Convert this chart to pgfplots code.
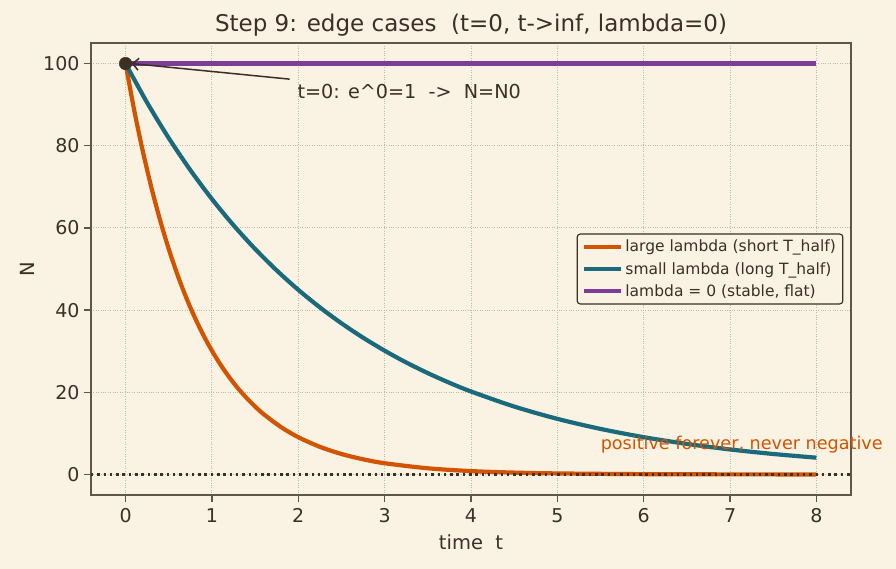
\documentclass[border=0pt]{standalone}
\usepackage{fontspec}
\setmainfont{DejaVu Sans}
\usepackage{pgfplots}
\pgfplotsset{compat=1.18}
\usetikzlibrary{backgrounds,arrows.meta}

\definecolor{paper}{HTML}{FAF2E3}
\definecolor{ink}{HTML}{3B2F27}
\definecolor{frame}{HTML}{5E554B}
\definecolor{gridc}{HTML}{C4B9A6}
\definecolor{fast}{HTML}{D35400}
\definecolor{slow}{HTML}{1B6A7B}
\definecolor{flat}{HTML}{7D3C98}

% N(t) = N0 e^{-lambda t}, N0 = 100
\pgfplotstableread{
t N
0 100
0.1 88.69
0.2 78.66
0.3 69.77
0.4 61.88
0.5 54.88
0.6 48.68
0.7 43.17
0.8 38.29
0.9 33.96
1.0 30.12
1.1 26.71
1.2 23.69
1.3 21.01
1.4 18.64
1.5 16.53
1.6 14.66
1.8 11.53
2.0 9.07
2.25 6.72
2.5 4.98
2.75 3.69
3.0 2.73
3.5 1.50
4.0 0.82
4.5 0.45
5.0 0.25
6.0 0.07
7.0 0.02
8.0 0.01
}\largelambda

\pgfplotstableread{
t N
0 100
0.25 90.48
0.5 81.87
0.75 74.08
1.0 67.03
1.25 60.65
1.5 54.88
1.75 49.66
2.0 44.93
2.25 40.66
2.5 36.79
2.75 33.29
3.0 30.12
3.25 27.25
3.5 24.66
3.75 22.31
4.0 20.19
4.5 16.53
5.0 13.53
5.5 11.08
6.0 9.07
6.5 7.43
7.0 6.08
7.5 4.98
8.0 4.08
}\smalllambda

\pgfplotstableread{
t N
0 100
8 100
}\zerolambda

\begin{document}
\begin{tikzpicture}
\begin{axis}[
  scale only axis,
  width=760pt, height=452pt,
  xmin=-0.4, xmax=8.4, ymin=-5, ymax=105,
  xtick={0,1,...,8}, ytick={0,20,...,100},
  tick pos=left,
  tick align=outside,
  major tick length=7pt,
  clip=false,
  grid=major,
  major grid style={gridc, dotted, line width=1pt},
  axis line style={frame, line width=1.5pt},
  tick style={frame, line width=1.3pt},
  /pgf/number format/assume math mode=true,
  ticklabel style={font=\fontsize{19}{19}\selectfont, text=ink},
  xticklabel style={yshift=-3pt},
  yticklabel style={xshift=-1pt},
  xlabel={time\ \ t}, ylabel={N},
  label style={font=\fontsize{19.5}{19.5}\selectfont, text=ink},
  xlabel style={yshift=-5pt},
  ylabel style={yshift=2pt},
  title={Step 9: edge cases\ \ (t=0, t->inf, lambda=0)},
  title style={font=\fontsize{23}{23}\selectfont, text=ink,
    at={(0.5,1)}, anchor=base, yshift=5pt},
  legend cell align=left,
  legend style={at={(rel axis cs:0.99,0.5)}, anchor=east,
    draw=ink, line width=1.2pt, fill=paper, rounded corners=3pt,
    font=\fontsize{15.5}{15.5}\selectfont, text=ink,
    inner xsep=5pt, inner ysep=4pt,
    row sep=5pt},
  legend image code/.code={\draw[#1, line width=4.2pt] (0pt,0pt) -- (37pt,0pt);},
]
\addplot[fast, line width=4.2pt, smooth] table[x=t, y=N] {\largelambda};
\addlegendentry{large lambda (short T\_half)}
\addplot[slow, line width=4.2pt, smooth] table[x=t, y=N] {\smalllambda};
\addlegendentry{small lambda (long T\_half)}
\addplot[flat, line width=5pt] table[x=t, y=N] {\zerolambda};
\addlegendentry{lambda = 0 (stable, flat)}

% N = 0 reference line
\addplot[ink, line width=2.2pt, dash pattern=on 2.5pt off 3.8pt, forget plot]
  coordinates {(-0.4,0) (8.4,0)};
% starting value N0
\addplot[ink, only marks, mark=*, mark size=6.3pt, forget plot]
  coordinates {(0,100)};

\draw[ink, line width=1.5pt, -{Straight Barb[length=6pt]}]
  (axis cs:1.9,96.2) -- (axis cs:0.07,100);
\node[anchor=base west, text=ink, inner sep=0pt,
  font=\fontsize{19.2}{19.2}\selectfont]
  at (axis cs:1.99,91.6) {t=0: e\textasciicircum 0=1\ \ ->\ \ N=N0};
\node[anchor=west, text=fast, inner sep=0pt,
  font=\fontsize{17.6}{17.6}\selectfont]
  at (axis cs:5.5,7.2) {positive forever, never negative};

\coordinate (bl) at (rel axis cs:0,0);
\coordinate (tr) at (rel axis cs:1,1);
\end{axis}
\pgfresetboundingbox
\path[use as bounding box] ([xshift=-91pt,yshift=-74pt]bl) rectangle ([xshift=45pt,yshift=43pt]tr);
\begin{scope}[on background layer]
  \fill[paper] ([xshift=-91pt,yshift=-74pt]bl) rectangle ([xshift=45pt,yshift=43pt]tr);
\end{scope}
\end{tikzpicture}
\end{document}
